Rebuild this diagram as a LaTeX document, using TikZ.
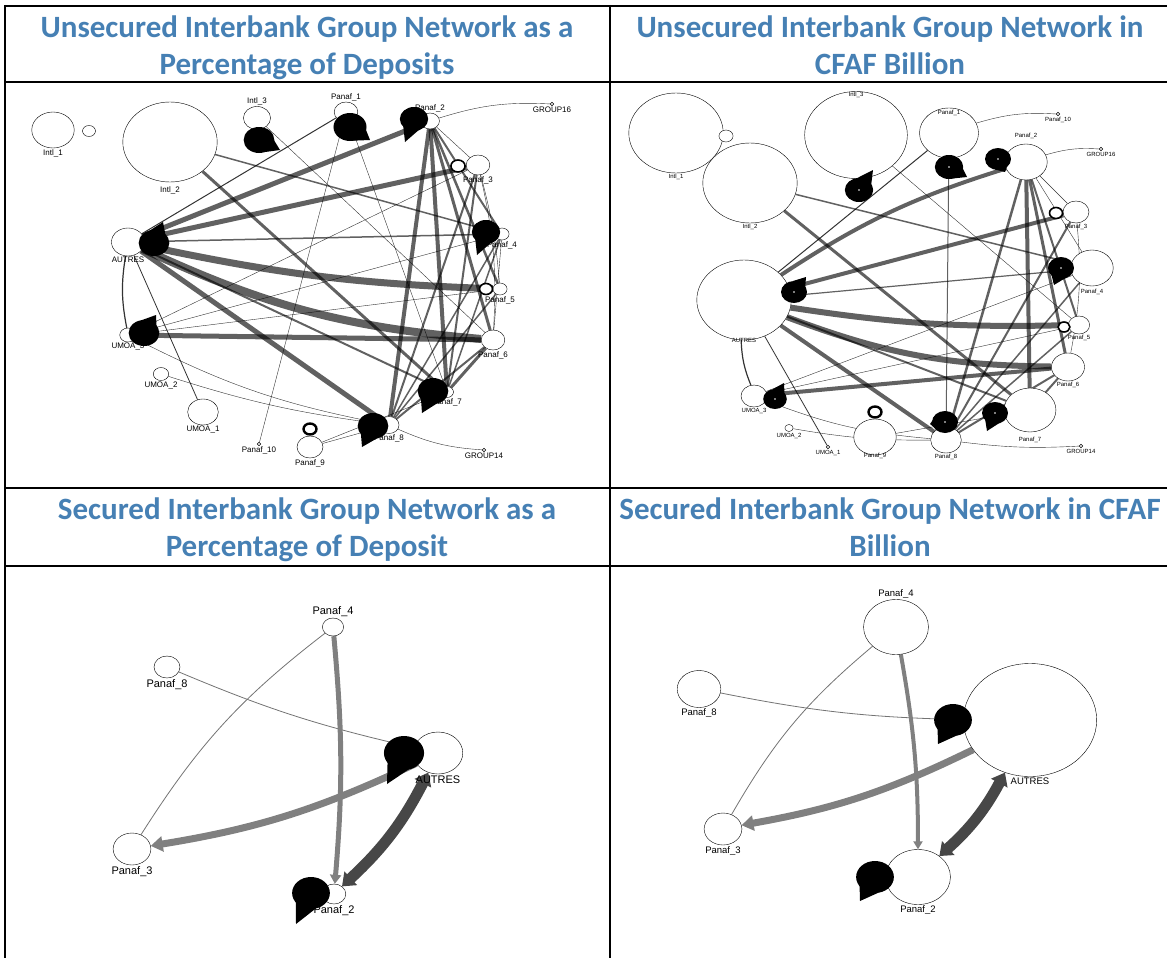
\documentclass[tikz,border=0pt]{standalone}
\usepackage{fontspec}
\setmainfont{Liberation Sans}
\newfontfamily\headfont{Carlito}
\usepackage{tikz}
\usetikzlibrary{shapes.geometric, arrows.meta, calc, backgrounds}
\definecolor{headblue}{RGB}{70,128,180}

\newcommand{\loopblob}[4]{%
  \node[blob=#3] (#1) at (#2) {};
  \fill ($(#1.center)!#3pt!45:(#4)$) -- (#4) -- ($(#1.center)!#3pt!-45:(#4)$) -- cycle;
}

\begin{document}
\begin{tikzpicture}[x=1pt, y=-1pt,
  head/.style={font=\headfont\bfseries\fontsize{31}{37}\selectfont, text=headblue, align=center, inner sep=0pt, anchor=north},
  bank/.style={ellipse, draw=black, line width=0.4pt, fill=white, inner sep=0pt, minimum height=#1pt, minimum width=1.18*#1pt},
  ring/.style={ellipse, draw=black, line width=1.6pt, fill=white, inner sep=0pt, minimum height=#1pt, minimum width=1.18*#1pt},
  blob/.style={ellipse, fill=black, inner sep=0pt, minimum height=2*#1pt, minimum width=2.36*#1pt},
  dot/.style={circle, draw=black, line width=0.4pt, fill=white, inner sep=0pt, minimum size=3.5pt},
  lblA/.style={font=\fontsize{8}{9}\selectfont, inner sep=1pt},
  lblB/.style={font=\fontsize{6}{7}\selectfont, inner sep=1pt},
  lblC/.style={font=\fontsize{11}{12}\selectfont, inner sep=1pt},
  lblD/.style={font=\fontsize{9.5}{11}\selectfont, inner sep=1pt},
  flow/.style={draw=black, draw opacity=0.62, line width=#1pt},
  wire/.style={draw=black, draw opacity=0.8, line width=0.4pt},
  sflow/.style={draw=black!50, line width=#1pt},
  dflow/.style={draw=black!72, line width=#1pt},
  swire/.style={draw=black!55, line width=0.8pt},
  frame/.style={line width=2.2pt},
]
\useasboundingbox (0,0) rectangle (1167,958);

\node[head] (t-ua) at (307,16) {Unsecured Interbank Group Network as a\\Percentage of Deposits};
\node[head] (t-ub) at (890,16) {Unsecured Interbank Group Network in\\CFAF Billion};
\node[head] (t-sa) at (307,498) {Secured Interbank Group Network as a\\Percentage of Deposit};
\node[head] (t-sb) at (890,498) {Secured Interbank Group Network in CFAF\\Billion};

\node[bank=36, label={[lblA]below:Intl\_1}] (A-intl1) at (53,130) {};
\node[bank=11] (A-intl1-loop) at (89,131) {};
\node[bank=80, label={[lblA, label distance=3pt]below:Intl\_2}] (A-intl2) at (170,142) {};
\node[bank=23, label={[lblA]above:Intl\_3}] (A-intl3) at (257,118) {};
\node[bank=20, label={[lblA]above:Panaf\_1}] (A-panaf1) at (346,112) {};
\node[bank=16, label={[lblA]above:Panaf\_2}] (A-panaf2) at (430,121) {};
\node[dot, label={[lblA]below:GROUP16}] (A-group16) at (552,104) {};
\node[bank=20, label={[lblA]below:Panaf\_3}] (A-panaf3) at (478,165) {};
\node[bank=12, label={[lblA]below:Panaf\_4}] (A-panaf4) at (502,234) {};
\node[bank=12, label={[lblA]below:Panaf\_5}] (A-panaf5) at (500,289) {};
\node[bank=20, label={[lblA]below:Panaf\_6}] (A-panaf6) at (493,340) {};
\node[bank=11, label={[lblA]below:Panaf\_7}] (A-panaf7) at (447,392) {};
\node[bank=17, label={[lblA]below:Panaf\_8}] (A-panaf8) at (389,425) {};
\node[dot, label={[lblA]below:GROUP14}] (A-group14) at (484,450) {};
\node[bank=22, label={[lblA]below:Panaf\_9}] (A-panaf9) at (310,447) {};
\node[dot, label={[lblA]below:Panaf\_10}] (A-panaf10) at (259,444) {};
\node[bank=26, label={[lblA]below:UMOA\_1}] (A-umoa1) at (203,412) {};
\node[bank=13, label={[lblA]below:UMOA\_2}] (A-umoa2) at (161,374) {};
\node[bank=14, label={[lblA]below:UMOA\_3}] (A-umoa3) at (128,335) {};
\node[bank=28, label={[lblA]below:AUTRES}] (A-autres) at (128,242) {};
\node[ring=12] (A-panaf3-loop) at (458,166) {};
\node[ring=11] (A-panaf5-loop) at (486,289) {};
\node[ring=11, line width=2.4pt] (A-panaf9-loop) at (310,429) {};
\loopblob{A-intl3-loop}{259,140}{13}{280,150}
\loopblob{A-panaf1-loop}{350,127}{14}{370,140}
\loopblob{A-panaf2-loop}{414,119}{12}{405,142}
\loopblob{A-panaf4-loop}{486,232}{12}{477,255}
\loopblob{A-panaf7-loop}{433,391}{13}{422,413}
\loopblob{A-panaf8-loop}{373,426}{13}{362,447}
\loopblob{A-umoa3-loop}{144,333}{13}{156,315}
\loopblob{A-autres-loop}{154,243}{13}{163,222}

\begin{scope}[on background layer]
  \draw[flow=5] (A-autres) -- (A-panaf2);
  \draw[flow=5] (A-autres) -- (A-panaf3);
  \draw[flow=1.5] (A-autres) -- (A-panaf4);
  \draw[flow=7] (A-autres) to[bend right=5] (A-panaf5);
  \draw[flow=8] (A-autres) to[bend right=10] (A-panaf6);
  \draw[flow=2] (A-autres) -- (A-panaf7);
  \draw[flow=5] (A-autres) -- (A-panaf8);
  \draw[wire, line width=1pt] (A-panaf1) -- (A-autres);
  \draw[wire, line width=1.2pt] (A-autres) to[bend right=10] (A-umoa3);
  \draw[wire, line width=0.8pt] (A-autres) -- (A-umoa1);
  \draw[flow=5] (A-umoa3) -- (A-panaf6);
  \draw[wire] (A-umoa3) to[bend right=8] (A-panaf8);
  \draw[wire] (A-umoa3) -- (A-panaf5);
  \draw[wire] (A-umoa3) -- (A-panaf4);
  \draw[wire] (A-umoa3) -- (A-panaf3);
  \draw[wire] (A-umoa2) to[bend right=5] (A-panaf8);
  \draw[flow=3] (A-intl2) -- (A-panaf7);
  \draw[flow=1.5] (A-intl2) -- (A-panaf4);
  \draw[wire] (A-intl3) -- (A-panaf6);
  \draw[wire] (A-panaf1) -- (A-panaf7);
  \draw[wire] (A-panaf1) -- (A-panaf10);
  \draw[flow=4] (A-panaf2) -- (A-panaf8);
  \draw[flow=4] (A-panaf2) -- (A-panaf7);
  \draw[flow=3] (A-panaf2) -- (A-panaf6);
  \draw[flow=2.5] (A-panaf2) -- (A-panaf5);
  \draw[flow=2] (A-panaf2) -- (A-panaf4);
  \draw[wire] (A-panaf2) -- (A-panaf3);
  \draw[wire] (A-panaf2) to[bend left=10] (A-group16);
  \draw[flow=2] (A-panaf3) -- (A-panaf8);
  \draw[flow=2] (A-panaf3) -- (A-panaf7);
  \draw[wire] (A-panaf3) to[bend left=8] (A-panaf6);
  \draw[wire] (A-panaf3) to[bend left=5] (A-panaf5);
  \draw[flow=1.5] (A-panaf4) -- (A-panaf8);
  \draw[flow=1.5] (A-panaf4) -- (A-panaf7);
  \draw[wire] (A-panaf4) -- (A-panaf6);
  \draw[flow=1.5] (A-panaf5) -- (A-panaf8);
  \draw[flow=3] (A-panaf6) -- (A-panaf7);
  \draw[flow=2] (A-panaf6) -- (A-panaf8);
  \draw[wire] (A-panaf8) to[bend right=10] (A-group14);
  \draw[wire] (A-panaf9) -- (A-panaf8);
  \draw[wire] (A-panaf9) -- (A-panaf7);
\end{scope}

\node[bank=80, label={[lblB]below:Intl\_1}] (B-intl1) at (676,133) {};
\node[bank=12] (B-intl1-loop) at (726,136) {};
\node[bank=80, label={[lblB]below:Intl\_2}] (B-intl2) at (750,183) {};
\node[bank=87, label={[lblB, label distance=-8pt]above:Intl\_3}] (B-intl3) at (856,135) {};
\node[bank=50, label={[lblB, label distance=-9pt]above:Panaf\_1}] (B-panaf1) at (949,133) {};
\node[dot, label={[lblB]below:Panaf\_10}] (B-panaf10) at (1058,114) {};
\node[bank=36, label={[lblB, label distance=4pt]above:Panaf\_2}] (B-panaf2) at (1026,162) {};
\node[dot, label={[lblB]below:GROUP16}] (B-group16) at (1101,149) {};
\node[bank=22, label={[lblB]below:Panaf\_3}] (B-panaf3) at (1076,212) {};
\node[bank=36, label={[lblB, label distance=2pt]below:Panaf\_4}] (B-panaf4) at (1092,268) {};
\node[bank=18, label={[lblB]below:Panaf\_5}] (B-panaf5) at (1079,325) {};
\node[bank=28, label={[lblB]below:Panaf\_6}] (B-panaf6) at (1068,367) {};
\node[bank=44, label={[lblB, label distance=4pt]below:Panaf\_7}] (B-panaf7) at (1030,410) {};
\node[dot, label={[lblB]below:GROUP14}] (B-group14) at (1081,446) {};
\node[bank=26, label={[lblB]below:Panaf\_8}] (B-panaf8) at (946,440) {};
\node[bank=36, label={[lblB, label distance=-3pt]below:Panaf\_9}] (B-panaf9) at (875,437) {};
\node[dot, label={[lblB]below:UMOA\_1}] (B-umoa1) at (828,447) {};
\node[bank=7, label={[lblB]below:UMOA\_2}] (B-umoa2) at (789,428) {};
\node[bank=22, label={[lblB]below:UMOA\_3}] (B-umoa3) at (754,396) {};
\node[bank=80, label={[lblB, label distance=-3pt]below:AUTRES}] (B-autres) at (744,300) {};
\node[ring=11] (B-panaf3-loop) at (1056,213) {};
\node[ring=10] (B-panaf5-loop) at (1064,327) {};
\node[ring=11, line width=2.4pt] (B-panaf9-loop) at (875,412) {};
\loopblob{B-intl3-loop}{859,190}{12}{873,170}
\loopblob{B-panaf1-loop}{949,167}{12}{967,177}
\loopblob{B-panaf2-loop}{998,159}{11}{1005,172}
\loopblob{B-panaf4-loop}{1061,268}{11}{1054,285}
\loopblob{B-panaf7-loop}{995,413}{11}{987,431}
\loopblob{B-panaf8-loop}{945,422}{11}{930,424}
\loopblob{B-umoa3-loop}{775,399}{10}{784,383}
\loopblob{B-autres-loop}{794,292}{11}{806,277}
\foreach \b in {intl3,panaf1,panaf2,panaf4,panaf7,panaf8,umoa3,autres}
  \fill[white] (B-\b-loop) circle (0.9);

\begin{scope}[on background layer]
  \draw[flow=4] (B-autres) to[bend left=8] (B-panaf2);
  \draw[flow=4] (B-autres) -- (B-panaf3);
  \draw[flow=1.2] (B-autres) -- (B-panaf4);
  \draw[flow=6] (B-autres) to[bend right=5] (B-panaf5);
  \draw[flow=6] (B-autres) to[bend right=10] (B-panaf6);
  \draw[flow=2] (B-autres) -- (B-panaf7);
  \draw[flow=4] (B-autres) -- (B-panaf8);
  \draw[wire, line width=1pt] (B-panaf1) -- (B-autres);
  \draw[wire, line width=1.2pt] (B-autres) to[bend right=10] (B-umoa3);
  \draw[wire, line width=0.8pt] (B-autres) -- (B-umoa1);
  \draw[flow=4] (B-umoa3) -- (B-panaf6);
  \draw[wire] (B-umoa3) to[bend right=8] (B-panaf8);
  \draw[wire] (B-umoa3) -- (B-panaf5);
  \draw[wire] (B-umoa3) -- (B-panaf4);
  \draw[wire] (B-umoa2) to[bend right=5] (B-panaf8);
  \draw[flow=3] (B-intl2) -- (B-panaf7);
  \draw[flow=1.5] (B-intl2) -- (B-panaf4);
  \draw[wire] (B-intl3) -- (B-panaf5);
  \draw[wire] (B-panaf1) to[bend left=10] (B-panaf10);
  \draw[flow=1] (B-panaf1) -- (B-panaf8);
  \draw[flow=2.5] (B-panaf2) -- (B-panaf8);
  \draw[flow=4] (B-panaf2) -- (B-panaf7);
  \draw[flow=3] (B-panaf2) -- (B-panaf6);
  \draw[flow=2] (B-panaf2) -- (B-panaf5);
  \draw[wire] (B-panaf2) -- (B-panaf4);
  \draw[wire] (B-panaf2) -- (B-panaf3);
  \draw[wire] (B-panaf2) to[bend left=10] (B-group16);
  \draw[flow=2] (B-panaf3) -- (B-panaf8);
  \draw[flow=1.5] (B-panaf4) -- (B-panaf8);
  \draw[wire] (B-panaf3) to[bend left=8] (B-panaf6);
  \draw[flow=2] (B-panaf6) -- (B-panaf8);
  \draw[flow=1.5] (B-panaf5) -- (B-panaf8);
  \draw[flow=2] (B-panaf6) -- (B-panaf7);
  \draw[wire] (B-panaf8) to[bend right=5] (B-group14);
  \draw[wire] (B-panaf9) -- (B-panaf7);
\end{scope}

\node[bank=18, label={[lblC]above:Panaf\_4}] (C-panaf4) at (333,627) {};
\node[bank=22, label={[lblC]below:Panaf\_8}] (C-panaf8) at (167,667) {};
\node[bank=42, label={[lblC]below:AUTRES}] (C-autres) at (438,753) {};
\node[bank=32, label={[lblC]below:Panaf\_3}] (C-panaf3) at (132,849) {};
\node[bank=20, label={[lblC]below:Panaf\_2}] (C-panaf2) at (334,894) {};
\loopblob{C-autres-loop}{404,753}{17}{387,784}
\loopblob{C-panaf2-loop}{311,893}{16}{296,924}

\begin{scope}[on background layer]
  \draw[swire] (C-panaf8) to[bend right=5] (C-autres);
  \draw[swire] (C-panaf4) to[bend right=10] (C-panaf3);
  \draw[sflow=5, -{Triangle[length=9pt, width=11pt]}] (C-panaf4) to[bend left=5] (C-panaf2);
  \draw[sflow=7, -{Triangle[length=12pt, width=15pt]}] (C-autres) to[bend left=8] (C-panaf3);
  \draw[dflow=11, {Triangle[length=12pt, width=18pt]}-{Triangle[length=12pt, width=18pt]}] (C-autres) to[bend left=10] (C-panaf2);
\end{scope}

\node[bank=55, label={[lblD]above:Panaf\_4}] (D-panaf4) at (896,627) {};
\node[bank=37, label={[lblD]below:Panaf\_8}] (D-panaf8) at (699,689) {};
\node[bank=113, label={[lblD]below:AUTRES}] (D-autres) at (1030,720) {};
\node[bank=32, label={[lblD]below:Panaf\_3}] (D-panaf3) at (723,829) {};
\node[bank=55, label={[lblD]below:Panaf\_2}] (D-panaf2) at (918,877) {};
\loopblob{D-autres-loop}{953,720}{16}{938,744}
\loopblob{D-panaf2-loop}{875,877}{16}{860,901}

\begin{scope}[on background layer]
  \draw[swire] (D-panaf8) to[bend right=5] (D-autres);
  \draw[swire] (D-panaf4) to[bend right=10] (D-panaf3);
  \draw[sflow=4, -{Triangle[length=8pt, width=9pt]}] (D-panaf4) to[bend left=5] (D-panaf2);
  \draw[sflow=7, -{Triangle[length=12pt, width=15pt]}] (D-autres) to[bend left=8] (D-panaf3);
  \draw[dflow=11, {Triangle[length=12pt, width=18pt]}-{Triangle[length=12pt, width=18pt]}] (D-autres) to[bend left=10] (D-panaf2);
\end{scope}

\draw[frame] (5,6) -- (1167,6);
\draw[frame] (5,82) -- (1167,82);
\draw[frame] (5,488) -- (1167,488);
\draw[frame] (5,566) -- (1167,566);
\draw[frame] (5,5) -- (5,958);
\draw[frame] (610,5) -- (610,958);
\end{tikzpicture}
\end{document}
